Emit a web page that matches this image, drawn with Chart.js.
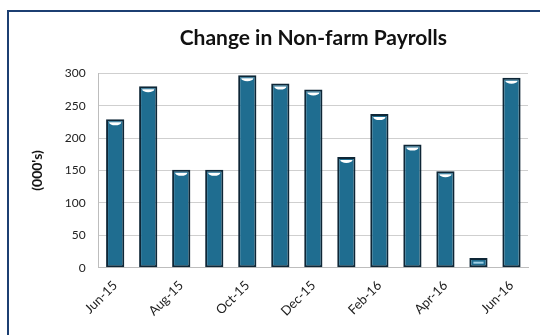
<!DOCTYPE html>
<html>
<head>
<meta charset="utf-8">
<script src="https://cdn.jsdelivr.net/npm/chart.js@4"></script>
<style>
  html, body { margin: 0; padding: 0; background: #fff; }
  #wrap { position: relative; width: 540px; height: 335px; overflow: hidden; }
  #frame {
    position: absolute; left: 7px; top: 10px; width: 560px; height: 340px;
    border: 2px solid #1c3f72; box-sizing: border-box;
  }
  canvas { position: absolute; left: 0; top: 0; }
</style>
</head>
<body>
<div id="wrap">
  <div id="frame"></div>
  <canvas id="payrollChart" width="540" height="335"></canvas>
</div>
<script>
// Mesi e variazione dei payroll (migliaia)
const months = ["Jun-15", "Jul-15", "Aug-15", "Sep-15", "Oct-15", "Nov-15", "Dec-15",
                "Jan-16", "Feb-16", "Mar-16", "Apr-16", "May-16", "Jun-16"];
const payrollChange = [229, 280, 151, 151, 297, 284, 275, 171, 237, 190, 149, 15, 293];
const yTicks = [0, 50, 100, 150, 200, 250, 300];

// Riflesso bianco in cima a ogni barra
const barShine = {
    id: "barShine",
    afterDatasetsDraw(chart) {
        const ctx = chart.ctx;
        chart.getDatasetMeta(0).data.forEach(bar => {
            const h = bar.base - bar.y;
            if (h < 12) {
                ctx.save();
                ctx.fillStyle = "#9fd0e6";
                ctx.fillRect(bar.x - bar.width / 2 + 4, bar.y + h / 2 - 1, bar.width - 8, 2);
                ctx.restore();
                return;
            }
            ctx.save();
            ctx.fillStyle = "#ffffff";
            ctx.beginPath();
            ctx.ellipse(bar.x, bar.y + 3, bar.width / 2 - 3, 3, 0, 0, Math.PI);
            ctx.fill();
            ctx.restore();
        });
    }
};

const ctx = document.getElementById("payrollChart").getContext("2d");

new Chart(ctx, {
    type: "bar",
    data: {
        labels: months,
        datasets: [{
            data: payrollChange,
            backgroundColor: "#1f6d90",
            borderColor: "#0e2636",
            borderWidth: 2,
            borderSkipped: false,
            barPercentage: 0.6,
            categoryPercentage: 0.92
        }]
    },
    options: {
        responsive: false,
        animation: false,
        layout: { padding: { left: 23, right: 12, top: 26, bottom: 14 } },
        plugins: {
            legend: { display: false },
            tooltip: { enabled: false },
            title: {
                display: true,
                fullSize: false,
                text: "Change in Non-farm Payrolls",
                color: "#111",
                font: { family: "Lato", size: 21, weight: "bold" },
                padding: { top: 0, bottom: 22 }
            }
        },
        scales: {
            x: {
                grid: { display: false, drawTicks: true },
                border: { color: "#bdbdbd" },
                ticks: {
                    autoSkip: false,
                    maxRotation: 45,
                    minRotation: 45,
                    padding: 2,
                    color: "#222",
                    font: { family: "Lato", size: 13 },
                    callback: (v, i) => (i % 2 === 0 ? months[i] : "")
                }
            },
            y: {
                min: 0,
                max: 300,
                afterBuildTicks: axis => { axis.ticks = yTicks.map(v => ({ value: v })); },
                grid: { color: "#cfcfcf", drawTicks: false },
                border: { color: "#bdbdbd" },
                ticks: {
                    padding: 13,
                    color: "#222",
                    font: { family: "Lato", size: 12 }
                },
                title: {
                    display: true,
                    text: "(000's)",
                    color: "#111",
                    font: { family: "Lato", size: 14, weight: "bold" },
                    padding: { top: 6, bottom: 6 }
                }
            }
        }
    },
    plugins: [barShine]
});
</script>
</body>
</html>
